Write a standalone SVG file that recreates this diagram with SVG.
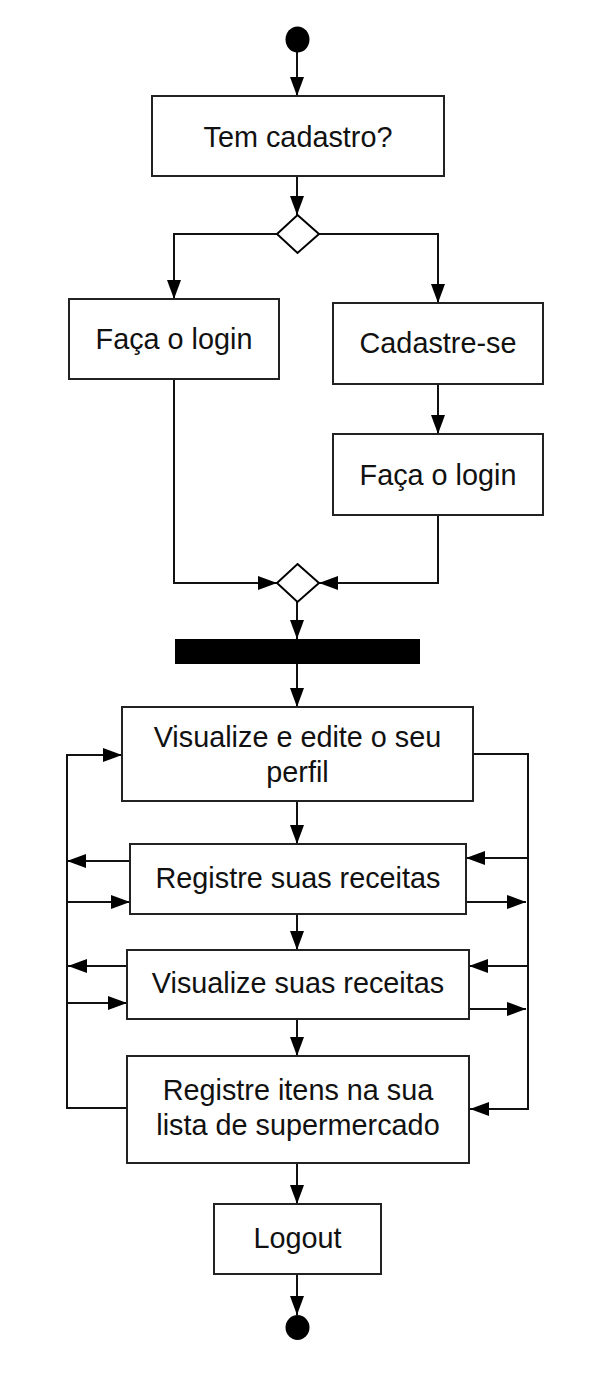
<svg xmlns="http://www.w3.org/2000/svg" width="606" height="1390" viewBox="0 0 606 1390">
<style>
.box{fill:#fff;stroke:#222;stroke-width:2}
.dia{fill:#fff;stroke:#000;stroke-width:2}
.lbl{font-family:"Liberation Sans",Arial,sans-serif;font-size:28.8px;fill:#111;text-anchor:middle}
.con{fill:none;stroke:#111;stroke-width:2;marker-end:url(#arr)}
.con0{fill:none;stroke:#111;stroke-width:2}
</style>
<defs>
<marker id="arr" markerUnits="userSpaceOnUse" markerWidth="20" markerHeight="14" refX="19" refY="7" orient="auto">
<path d="M0,0 L19,7 L0,14 z" fill="#000"/>
</marker>
</defs>
<rect width="606" height="1390" fill="#fff"/>
<g id="connectors">
<path class="con" d="M297,52 V96"/>
<path class="con" d="M297,176 V215"/>
<path class="con" d="M277,234 H174 V299"/>
<path class="con" d="M319,234 H438 V303"/>
<path class="con" d="M438,384 V434"/>
<path class="con" d="M174,379 V583 H277"/>
<path class="con" d="M438,515 V583 H319"/>
<path class="con" d="M297,602 V639"/>
<path class="con" d="M297,664 V707"/>
<path class="con" d="M127,1108 H67 V755 H122"/>
<path class="con" d="M473,754 H528 V1109 H470"/>
<path class="con" d="M297,801 V844"/>
<path class="con" d="M130,861 H67"/>
<path class="con" d="M67,902 H130"/>
<path class="con" d="M528,858 H466"/>
<path class="con" d="M466,902 H526"/>
<path class="con" d="M297,914 V950"/>
<path class="con" d="M127,966 H68"/>
<path class="con" d="M67,1003 H127"/>
<path class="con" d="M528,966 H469"/>
<path class="con" d="M469,1009 H526"/>
<path class="con" d="M297,1019 V1056"/>
<path class="con" d="M297,1163 V1204"/>
<path class="con" d="M297,1274 V1315"/>
</g>
<g id="start"><ellipse cx="297.5" cy="39.5" rx="12" ry="13" fill="#000"/></g>
<g id="tem-cadastro"><rect class="box" x="152" y="96" width="292" height="80"/><text class="lbl" x="298" y="147">Tem cadastro?</text></g>
<g id="decision1"><path class="dia" d="M297.5,215 L319,234 L297.5,253 L277,234 Z"/></g>
<g id="login-left"><rect class="box" x="69" y="299" width="210" height="80"/><text class="lbl" x="174" y="349">Faça o login</text></g>
<g id="cadastre"><rect class="box" x="333" y="303" width="210" height="81"/><text class="lbl" x="438" y="353">Cadastre-se</text></g>
<g id="login-right"><rect class="box" x="333" y="434" width="210" height="81"/><text class="lbl" x="438" y="485">Faça o login</text></g>
<g id="merge"><path class="dia" d="M297.5,564 L319,583 L297.5,602 L277,583 Z"/></g>
<g id="fork"><rect x="175" y="639" width="245" height="25" fill="#000"/></g>
<g id="perfil"><rect class="box" x="122" y="707" width="351" height="94"/><text class="lbl" x="297.5" y="747">Visualize e edite o seu</text><text class="lbl" x="297.5" y="782">perfil</text></g>
<g id="registre-receitas"><rect class="box" x="130" y="844" width="336" height="70"/><text class="lbl" x="298" y="888">Registre suas receitas</text></g>
<g id="visualize-receitas"><rect class="box" x="127" y="950" width="342" height="69"/><text class="lbl" x="298" y="993">Visualize suas receitas</text></g>
<g id="registre-itens"><rect class="box" x="127" y="1056" width="342" height="107"/><text class="lbl" x="298" y="1100">Registre itens na sua</text><text class="lbl" x="298" y="1135">lista de supermercado</text></g>
<g id="logout"><rect class="box" x="214" y="1204" width="167" height="70"/><text class="lbl" x="297.5" y="1248">Logout</text></g>
<g id="end"><ellipse cx="297.5" cy="1327.5" rx="12" ry="12.5" fill="#000"/></g>
</svg>
